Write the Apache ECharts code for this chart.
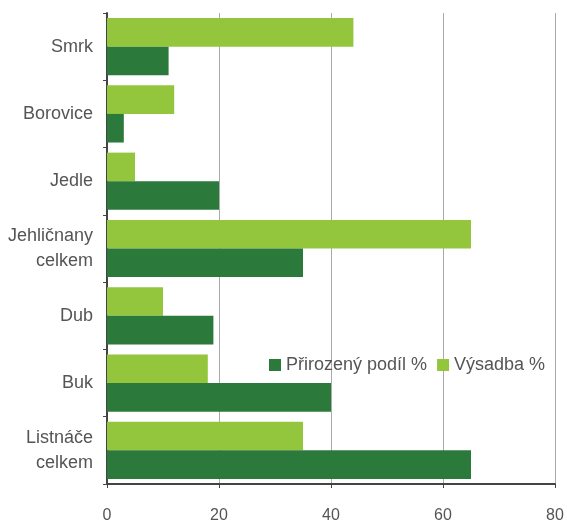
<!DOCTYPE html>
<html>

<head>
	<meta charset="UTF-8">
	<title></title>
	<style>
		html, body { margin: 0; padding: 0; background: #fff; }
		#chart { width: 567px; height: 524px; }
	</style>
	<script src="https://cdn.jsdelivr.net/npm/echarts@6/dist/echarts.min.js"></script>
</head>

<body>
	<div id="chart"></div>
	<script>
		// kategorie odshora dolu
		var categories = ['Smrk', 'Borovice', 'Jedle', 'Jehličnany\ncelkem', 'Dub', 'Buk', 'Listnáče\ncelkem'];
		var prirozeny = [11, 3, 20, 35, 19, 40, 65];
		var vysadba = [44, 12, 5, 65, 10, 18, 35];
		var xTicks = [0, 20, 40, 60, 80];

		var myChart = echarts.init(document.getElementById('chart'));
		myChart.setOption({
			animation: false,
			textStyle: { fontFamily: 'Liberation Sans' },
			legend: {
				left: 264,
				top: 351,
				itemWidth: 12,
				itemHeight: 12,
				itemGap: 10,
				icon: 'rect',
				textStyle: { color: '#555', fontSize: 18 },
				data: ['Přirozený podíl %', 'Výsadba %']
			},
			grid: { left: 107, right: 12, top: 13, bottom: 40 },
			xAxis: {
				type: 'value',
				min: xTicks[0],
				max: xTicks[xTicks.length - 1],
				interval: 20,
				axisLine: { show: true, lineStyle: { color: '#444', width: 2 } },
				axisTick: { show: true, length: 4, lineStyle: { color: '#444' } },
				axisLabel: { color: '#555', fontSize: 16, margin: 24 },
				splitLine: { show: true, lineStyle: { color: '#aaa', width: 1 } }
			},
			yAxis: {
				type: 'category',
				inverse: true,
				data: categories,
				axisLine: { show: true, lineStyle: { color: '#444', width: 2 } },
				axisTick: { show: true, length: 4, lineStyle: { color: '#444' } },
				axisLabel: { color: '#555', fontSize: 18, margin: 14, lineHeight: 25 }
			},
			// vysadba prvni, aby byla v kazde kategorii nahore
			series: [
				{
					name: 'Výsadba %',
					type: 'bar',
					data: vysadba,
					itemStyle: { color: '#93c63c' },
					barGap: '0%',
					barCategoryGap: '15%'
				},
				{
					name: 'Přirozený podíl %',
					type: 'bar',
					data: prirozeny,
					itemStyle: { color: '#2b7a3b' }
				}
			]
		});
	</script>
</body>

</html>
